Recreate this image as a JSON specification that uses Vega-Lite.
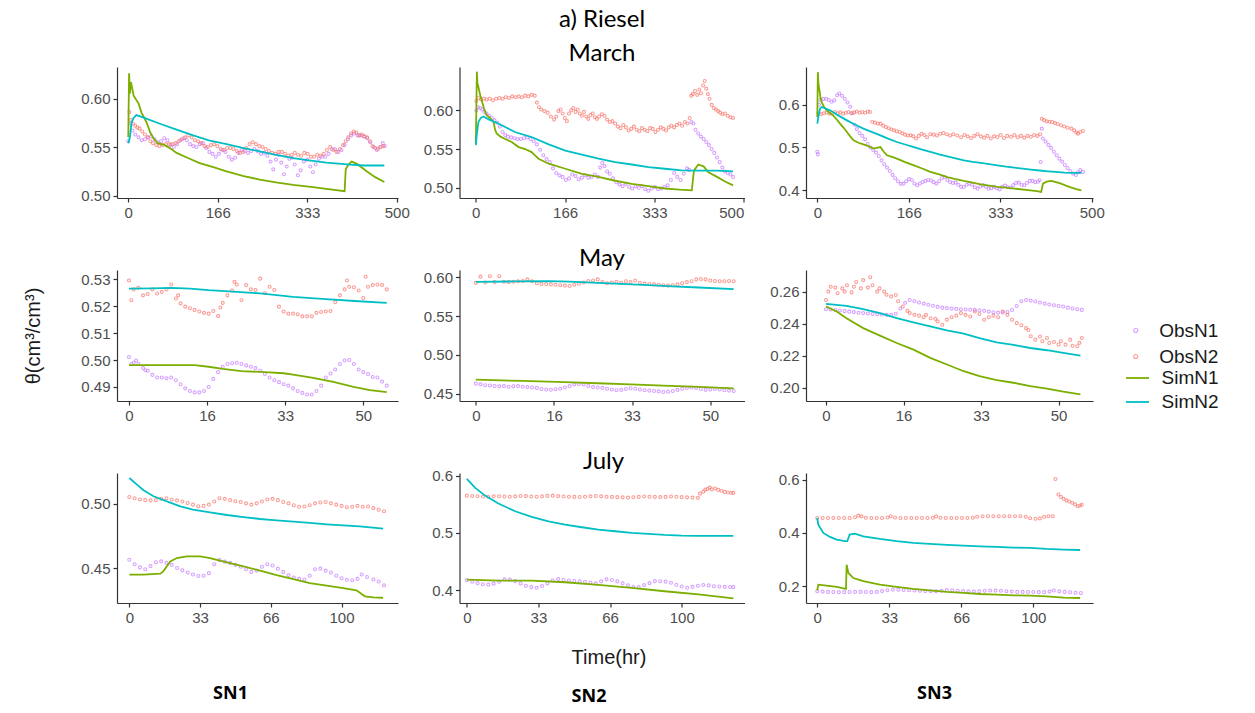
{
"$schema":"https://vega.github.io/schema/vega-lite/v6.json",
"background":"white",
"padding":{"left":23,"top":8,"right":5,"bottom":5},
"datasets":{
"m1a":[{"t":0,"v":0.556},{"t":4,"v":0.574},{"t":8,"v":0.567},{"t":13,"v":0.563},{"t":19,"v":0.56},{"t":25,"v":0.557},{"t":31,"v":0.558},{"t":37,"v":0.56},{"t":43,"v":0.561},{"t":49,"v":0.558},{"t":55,"v":0.555},{"t":61,"v":0.556},{"t":67,"v":0.559},{"t":73,"v":0.557},{"t":79,"v":0.552},{"t":85,"v":0.55},{"t":91,"v":0.553},{"t":97,"v":0.557},{"t":103,"v":0.559},{"t":109,"v":0.557},{"t":115,"v":0.553},{"t":121,"v":0.551},{"t":127,"v":0.55},{"t":133,"v":0.553},{"t":139,"v":0.554},{"t":145,"v":0.549},{"t":151,"v":0.545},{"t":157,"v":0.543},{"t":163,"v":0.54},{"t":169,"v":0.543},{"t":175,"v":0.547},{"t":181,"v":0.545},{"t":187,"v":0.54},{"t":193,"v":0.537},{"t":199,"v":0.539},{"t":205,"v":0.544},{"t":211,"v":0.547},{"t":217,"v":0.546},{"t":223,"v":0.544},{"t":229,"v":0.546},{"t":235,"v":0.548},{"t":241,"v":0.546},{"t":247,"v":0.543},{"t":253,"v":0.544},{"t":259,"v":0.541},{"t":265,"v":0.535},{"t":270,"v":0.527},{"t":275,"v":0.537},{"t":280,"v":0.542},{"t":285,"v":0.534},{"t":290,"v":0.522},{"t":295,"v":0.53},{"t":300,"v":0.538},{"t":305,"v":0.539},{"t":310,"v":0.532},{"t":316,"v":0.521},{"t":321,"v":0.526},{"t":327,"v":0.535},{"t":333,"v":0.537},{"t":339,"v":0.53},{"t":344,"v":0.524},{"t":349,"v":0.532},{"t":355,"v":0.538},{"t":361,"v":0.54},{"t":367,"v":0.54},{"t":373,"v":0.543},{"t":379,"v":0.548},{"t":385,"v":0.548},{"t":391,"v":0.545},{"t":397,"v":0.547},{"t":403,"v":0.552},{"t":409,"v":0.558},{"t":415,"v":0.562},{"t":421,"v":0.564},{"t":427,"v":0.562},{"t":433,"v":0.562},{"t":439,"v":0.561},{"t":445,"v":0.559},{"t":451,"v":0.555},{"t":457,"v":0.55},{"t":463,"v":0.547},{"t":469,"v":0.55},{"t":474,"v":0.554},{"t":478,"v":0.551}],
"m1b":[{"t":2,"v":0.586},{"t":5,"v":0.578},{"t":9,"v":0.574},{"t":13,"v":0.572},{"t":17,"v":0.57},{"t":21,"v":0.569},{"t":26,"v":0.566},{"t":31,"v":0.563},{"t":36,"v":0.56},{"t":41,"v":0.556},{"t":46,"v":0.554},{"t":52,"v":0.552},{"t":58,"v":0.551},{"t":64,"v":0.552},{"t":70,"v":0.553},{"t":76,"v":0.553},{"t":82,"v":0.553},{"t":88,"v":0.554},{"t":94,"v":0.556},{"t":100,"v":0.558},{"t":106,"v":0.56},{"t":112,"v":0.562},{"t":118,"v":0.56},{"t":124,"v":0.557},{"t":130,"v":0.556},{"t":136,"v":0.554},{"t":142,"v":0.551},{"t":148,"v":0.55},{"t":154,"v":0.552},{"t":160,"v":0.553},{"t":166,"v":0.551},{"t":172,"v":0.548},{"t":178,"v":0.547},{"t":184,"v":0.549},{"t":190,"v":0.549},{"t":196,"v":0.548},{"t":202,"v":0.546},{"t":208,"v":0.544},{"t":214,"v":0.545},{"t":220,"v":0.549},{"t":226,"v":0.553},{"t":232,"v":0.555},{"t":238,"v":0.553},{"t":244,"v":0.551},{"t":250,"v":0.55},{"t":256,"v":0.548},{"t":262,"v":0.546},{"t":268,"v":0.544},{"t":274,"v":0.543},{"t":280,"v":0.545},{"t":286,"v":0.545},{"t":292,"v":0.543},{"t":298,"v":0.541},{"t":304,"v":0.542},{"t":310,"v":0.544},{"t":316,"v":0.542},{"t":322,"v":0.541},{"t":328,"v":0.544},{"t":334,"v":0.543},{"t":340,"v":0.54},{"t":346,"v":0.54},{"t":352,"v":0.542},{"t":358,"v":0.541},{"t":364,"v":0.543},{"t":370,"v":0.547},{"t":376,"v":0.55},{"t":382,"v":0.547},{"t":388,"v":0.545},{"t":394,"v":0.548},{"t":400,"v":0.552},{"t":405,"v":0.556},{"t":410,"v":0.56},{"t":415,"v":0.564},{"t":420,"v":0.566},{"t":425,"v":0.565},{"t":430,"v":0.562},{"t":435,"v":0.563},{"t":440,"v":0.561},{"t":445,"v":0.56},{"t":450,"v":0.556},{"t":455,"v":0.551},{"t":460,"v":0.549},{"t":465,"v":0.548},{"t":470,"v":0.55},{"t":475,"v":0.551}],
"m1c":[{"t":0,"v":0.56},{"t":1.5,"v":0.626},{"t":3,"v":0.605},{"t":5,"v":0.617},{"t":10,"v":0.603},{"t":19,"v":0.595},{"t":25,"v":0.585},{"t":30,"v":0.58},{"t":35,"v":0.574},{"t":41,"v":0.565},{"t":47,"v":0.559},{"t":55,"v":0.554},{"t":68,"v":0.552},{"t":80,"v":0.548},{"t":90,"v":0.544},{"t":110,"v":0.539},{"t":133,"v":0.5335},{"t":160,"v":0.529},{"t":183,"v":0.525},{"t":215,"v":0.52},{"t":245,"v":0.5165},{"t":275,"v":0.5135},{"t":307,"v":0.511},{"t":340,"v":0.509},{"t":369,"v":0.507},{"t":403,"v":0.5045},{"t":405,"v":0.527},{"t":410,"v":0.532},{"t":416,"v":0.535},{"t":425,"v":0.533},{"t":435,"v":0.529},{"t":444,"v":0.525},{"t":460,"v":0.519},{"t":477,"v":0.514}],
"m1d":[{"t":0,"v":0.554},{"t":3,"v":0.56},{"t":6,"v":0.575},{"t":10,"v":0.58},{"t":15,"v":0.583},{"t":30,"v":0.58},{"t":59,"v":0.574},{"t":90,"v":0.568},{"t":121,"v":0.562},{"t":150,"v":0.557},{"t":183,"v":0.553},{"t":215,"v":0.549},{"t":245,"v":0.5455},{"t":275,"v":0.542},{"t":307,"v":0.5385},{"t":340,"v":0.536},{"t":369,"v":0.534},{"t":413,"v":0.532},{"t":440,"v":0.531},{"t":477,"v":0.531}],
"m2a":[{"t":1,"v":0.6},{"t":4,"v":0.604},{"t":8,"v":0.603},{"t":12,"v":0.601},{"t":16,"v":0.598},{"t":20,"v":0.596},{"t":25,"v":0.593},{"t":30,"v":0.59},{"t":35,"v":0.587},{"t":40,"v":0.584},{"t":45,"v":0.579},{"t":50,"v":0.572},{"t":55,"v":0.568},{"t":60,"v":0.566},{"t":66,"v":0.565},{"t":72,"v":0.564},{"t":78,"v":0.563},{"t":84,"v":0.563},{"t":90,"v":0.564},{"t":96,"v":0.565},{"t":102,"v":0.563},{"t":108,"v":0.56},{"t":114,"v":0.556},{"t":120,"v":0.549},{"t":126,"v":0.542},{"t":132,"v":0.537},{"t":138,"v":0.533},{"t":144,"v":0.525},{"t":150,"v":0.519},{"t":156,"v":0.516},{"t":162,"v":0.514},{"t":168,"v":0.51},{"t":174,"v":0.512},{"t":180,"v":0.517},{"t":186,"v":0.515},{"t":192,"v":0.511},{"t":198,"v":0.513},{"t":204,"v":0.516},{"t":210,"v":0.513},{"t":216,"v":0.514},{"t":222,"v":0.517},{"t":228,"v":0.514},{"t":232,"v":0.526},{"t":236,"v":0.532},{"t":240,"v":0.528},{"t":245,"v":0.521},{"t":250,"v":0.518},{"t":256,"v":0.512},{"t":262,"v":0.507},{"t":268,"v":0.504},{"t":274,"v":0.502},{"t":280,"v":0.505},{"t":286,"v":0.501},{"t":292,"v":0.499},{"t":298,"v":0.502},{"t":304,"v":0.5},{"t":310,"v":0.502},{"t":316,"v":0.498},{"t":322,"v":0.496},{"t":328,"v":0.499},{"t":334,"v":0.501},{"t":340,"v":0.498},{"t":346,"v":0.499},{"t":352,"v":0.501},{"t":358,"v":0.503},{"t":364,"v":0.51},{"t":370,"v":0.519},{"t":376,"v":0.514},{"t":382,"v":0.51},{"t":388,"v":0.518},{"t":394,"v":0.525},{"t":398,"v":0.523},{"t":402,"v":0.585},{"t":406,"v":0.583},{"t":410,"v":0.575},{"t":415,"v":0.57},{"t":420,"v":0.566},{"t":425,"v":0.563},{"t":430,"v":0.559},{"t":435,"v":0.555},{"t":440,"v":0.55},{"t":445,"v":0.545},{"t":450,"v":0.539},{"t":455,"v":0.533},{"t":460,"v":0.526},{"t":465,"v":0.521},{"t":470,"v":0.519},{"t":475,"v":0.517},{"t":480,"v":0.514}],
"m2b":[{"t":1,"v":0.612},{"t":5,"v":0.616},{"t":10,"v":0.614},{"t":15,"v":0.615},{"t":20,"v":0.614},{"t":26,"v":0.615},{"t":32,"v":0.613},{"t":38,"v":0.615},{"t":44,"v":0.616},{"t":50,"v":0.615},{"t":56,"v":0.617},{"t":62,"v":0.616},{"t":68,"v":0.618},{"t":74,"v":0.617},{"t":80,"v":0.618},{"t":86,"v":0.617},{"t":92,"v":0.619},{"t":98,"v":0.618},{"t":104,"v":0.62},{"t":110,"v":0.619},{"t":114,"v":0.61},{"t":118,"v":0.604},{"t":122,"v":0.601},{"t":128,"v":0.599},{"t":134,"v":0.597},{"t":140,"v":0.592},{"t":146,"v":0.588},{"t":150,"v":0.592},{"t":154,"v":0.599},{"t":158,"v":0.601},{"t":162,"v":0.596},{"t":166,"v":0.59},{"t":170,"v":0.586},{"t":174,"v":0.596},{"t":178,"v":0.6},{"t":182,"v":0.603},{"t":186,"v":0.598},{"t":190,"v":0.601},{"t":194,"v":0.596},{"t":198,"v":0.593},{"t":202,"v":0.598},{"t":206,"v":0.592},{"t":210,"v":0.589},{"t":214,"v":0.594},{"t":218,"v":0.596},{"t":222,"v":0.591},{"t":226,"v":0.589},{"t":230,"v":0.592},{"t":235,"v":0.595},{"t":240,"v":0.593},{"t":245,"v":0.588},{"t":250,"v":0.585},{"t":255,"v":0.586},{"t":260,"v":0.583},{"t":265,"v":0.579},{"t":270,"v":0.577},{"t":275,"v":0.581},{"t":280,"v":0.578},{"t":285,"v":0.574},{"t":290,"v":0.576},{"t":295,"v":0.579},{"t":300,"v":0.575},{"t":305,"v":0.573},{"t":310,"v":0.577},{"t":315,"v":0.575},{"t":320,"v":0.573},{"t":325,"v":0.577},{"t":330,"v":0.576},{"t":335,"v":0.572},{"t":340,"v":0.575},{"t":345,"v":0.578},{"t":350,"v":0.576},{"t":355,"v":0.574},{"t":360,"v":0.578},{"t":365,"v":0.58},{"t":370,"v":0.578},{"t":375,"v":0.581},{"t":380,"v":0.583},{"t":385,"v":0.58},{"t":390,"v":0.585},{"t":395,"v":0.583},{"t":399,"v":0.59},{"t":402,"v":0.619},{"t":405,"v":0.621},{"t":409,"v":0.625},{"t":413,"v":0.62},{"t":417,"v":0.627},{"t":420,"v":0.622},{"t":424,"v":0.632},{"t":427,"v":0.638},{"t":430,"v":0.628},{"t":433,"v":0.621},{"t":436,"v":0.615},{"t":440,"v":0.607},{"t":444,"v":0.603},{"t":448,"v":0.601},{"t":452,"v":0.599},{"t":456,"v":0.597},{"t":460,"v":0.595},{"t":465,"v":0.596},{"t":470,"v":0.593},{"t":475,"v":0.591},{"t":480,"v":0.59}],
"m2c":[{"t":0,"v":0.557},{"t":1,"v":0.6},{"t":2,"v":0.65},{"t":3,"v":0.635},{"t":5,"v":0.63},{"t":8,"v":0.62},{"t":11,"v":0.613},{"t":15,"v":0.603},{"t":20,"v":0.594},{"t":27,"v":0.59},{"t":33,"v":0.585},{"t":36,"v":0.575},{"t":39,"v":0.57},{"t":46,"v":0.566},{"t":55,"v":0.563},{"t":67,"v":0.559},{"t":80,"v":0.5525},{"t":92,"v":0.55},{"t":104,"v":0.546},{"t":110,"v":0.542},{"t":117,"v":0.5375},{"t":136,"v":0.531},{"t":167,"v":0.5245},{"t":198,"v":0.518},{"t":229,"v":0.514},{"t":260,"v":0.509},{"t":291,"v":0.505},{"t":322,"v":0.502},{"t":353,"v":0.499},{"t":380,"v":0.4975},{"t":403,"v":0.4966},{"t":405,"v":0.51},{"t":407,"v":0.522},{"t":415,"v":0.53},{"t":425,"v":0.5276},{"t":434,"v":0.52},{"t":450,"v":0.514},{"t":465,"v":0.508},{"t":480,"v":0.503}],
"m2d":[{"t":0,"v":0.555},{"t":2,"v":0.57},{"t":5,"v":0.585},{"t":9,"v":0.59},{"t":14,"v":0.592},{"t":25,"v":0.588},{"t":42,"v":0.583},{"t":73,"v":0.572},{"t":104,"v":0.5655},{"t":136,"v":0.556},{"t":167,"v":0.548},{"t":198,"v":0.5427},{"t":229,"v":0.5375},{"t":260,"v":0.533},{"t":291,"v":0.53},{"t":322,"v":0.5267},{"t":353,"v":0.5245},{"t":384,"v":0.5224},{"t":415,"v":0.522},{"t":450,"v":0.522},{"t":480,"v":0.521}],
"m3a":[{"t":0,"v":0.49},{"t":1,"v":0.484},{"t":3,"v":0.6},{"t":6,"v":0.611},{"t":11,"v":0.613},{"t":16,"v":0.614},{"t":21,"v":0.611},{"t":26,"v":0.607},{"t":31,"v":0.61},{"t":36,"v":0.622},{"t":40,"v":0.626},{"t":45,"v":0.621},{"t":50,"v":0.614},{"t":55,"v":0.605},{"t":60,"v":0.595},{"t":64,"v":0.58},{"t":68,"v":0.553},{"t":72,"v":0.543},{"t":77,"v":0.534},{"t":82,"v":0.527},{"t":87,"v":0.519},{"t":92,"v":0.508},{"t":97,"v":0.5},{"t":102,"v":0.494},{"t":107,"v":0.488},{"t":112,"v":0.48},{"t":117,"v":0.47},{"t":122,"v":0.461},{"t":127,"v":0.453},{"t":132,"v":0.445},{"t":137,"v":0.436},{"t":142,"v":0.428},{"t":147,"v":0.421},{"t":152,"v":0.415},{"t":157,"v":0.4156},{"t":162,"v":0.421},{"t":167,"v":0.426},{"t":172,"v":0.424},{"t":177,"v":0.416},{"t":182,"v":0.4117},{"t":187,"v":0.416},{"t":192,"v":0.4195},{"t":197,"v":0.422},{"t":202,"v":0.424},{"t":207,"v":0.423},{"t":212,"v":0.419},{"t":217,"v":0.4156},{"t":222,"v":0.421},{"t":227,"v":0.428},{"t":232,"v":0.431},{"t":237,"v":0.424},{"t":242,"v":0.4195},{"t":247,"v":0.417},{"t":252,"v":0.418},{"t":257,"v":0.413},{"t":262,"v":0.408},{"t":267,"v":0.4078},{"t":272,"v":0.413},{"t":277,"v":0.4156},{"t":282,"v":0.413},{"t":287,"v":0.407},{"t":292,"v":0.404},{"t":297,"v":0.409},{"t":302,"v":0.412},{"t":307,"v":0.408},{"t":312,"v":0.404},{"t":317,"v":0.405},{"t":322,"v":0.408},{"t":327,"v":0.405},{"t":332,"v":0.402},{"t":337,"v":0.408},{"t":342,"v":0.411},{"t":347,"v":0.407},{"t":352,"v":0.4065},{"t":357,"v":0.412},{"t":362,"v":0.417},{"t":367,"v":0.418},{"t":372,"v":0.413},{"t":377,"v":0.4117},{"t":382,"v":0.417},{"t":387,"v":0.422},{"t":392,"v":0.422},{"t":397,"v":0.419},{"t":402,"v":0.42},{"t":405,"v":0.4234},{"t":407,"v":0.466},{"t":409,"v":0.544},{"t":411,"v":0.521},{"t":416,"v":0.514},{"t":421,"v":0.506},{"t":426,"v":0.499},{"t":431,"v":0.49},{"t":436,"v":0.482},{"t":441,"v":0.474},{"t":446,"v":0.467},{"t":451,"v":0.459},{"t":456,"v":0.452},{"t":461,"v":0.445},{"t":466,"v":0.439},{"t":471,"v":0.436},{"t":475,"v":0.442},{"t":479,"v":0.447},{"t":484,"v":0.443}],
"m3b":[{"t":2,"v":0.58},{"t":7,"v":0.578},{"t":12,"v":0.58},{"t":17,"v":0.582},{"t":22,"v":0.579},{"t":27,"v":0.581},{"t":32,"v":0.583},{"t":37,"v":0.58},{"t":42,"v":0.582},{"t":47,"v":0.579},{"t":52,"v":0.581},{"t":57,"v":0.583},{"t":62,"v":0.58},{"t":67,"v":0.582},{"t":72,"v":0.584},{"t":77,"v":0.581},{"t":82,"v":0.583},{"t":87,"v":0.581},{"t":92,"v":0.584},{"t":96,"v":0.583},{"t":100,"v":0.56},{"t":105,"v":0.558},{"t":110,"v":0.556},{"t":115,"v":0.5557},{"t":120,"v":0.551},{"t":125,"v":0.548},{"t":130,"v":0.545},{"t":135,"v":0.542},{"t":140,"v":0.54},{"t":145,"v":0.538},{"t":150,"v":0.536},{"t":155,"v":0.533},{"t":160,"v":0.53},{"t":165,"v":0.528},{"t":170,"v":0.5284},{"t":175,"v":0.526},{"t":180,"v":0.521},{"t":185,"v":0.527},{"t":190,"v":0.532},{"t":195,"v":0.529},{"t":200,"v":0.524},{"t":206,"v":0.531},{"t":212,"v":0.53},{"t":218,"v":0.528},{"t":224,"v":0.532},{"t":230,"v":0.534},{"t":236,"v":0.531},{"t":242,"v":0.528},{"t":248,"v":0.531},{"t":255,"v":0.528},{"t":262,"v":0.524},{"t":268,"v":0.529},{"t":274,"v":0.526},{"t":280,"v":0.522},{"t":286,"v":0.527},{"t":292,"v":0.531},{"t":298,"v":0.526},{"t":304,"v":0.523},{"t":310,"v":0.527},{"t":316,"v":0.521},{"t":322,"v":0.526},{"t":328,"v":0.5245},{"t":334,"v":0.529},{"t":340,"v":0.522},{"t":346,"v":0.527},{"t":353,"v":0.525},{"t":359,"v":0.529},{"t":365,"v":0.524},{"t":371,"v":0.527},{"t":377,"v":0.523},{"t":383,"v":0.527},{"t":389,"v":0.525},{"t":395,"v":0.529},{"t":401,"v":0.527},{"t":406,"v":0.531},{"t":409,"v":0.567},{"t":413,"v":0.564},{"t":418,"v":0.561},{"t":423,"v":0.56},{"t":428,"v":0.5595},{"t":433,"v":0.557},{"t":438,"v":0.555},{"t":444,"v":0.5518},{"t":450,"v":0.549},{"t":456,"v":0.546},{"t":463,"v":0.544},{"t":468,"v":0.54},{"t":472,"v":0.535},{"t":475,"v":0.5323},{"t":479,"v":0.536},{"t":484,"v":0.5385}],
"m3c":[{"t":0,"v":0.571},{"t":1,"v":0.676},{"t":2,"v":0.65},{"t":4,"v":0.633},{"t":6,"v":0.615},{"t":8,"v":0.606},{"t":12,"v":0.595},{"t":17,"v":0.587},{"t":23,"v":0.58},{"t":29,"v":0.575},{"t":35,"v":0.566},{"t":41.5,"v":0.5557},{"t":48,"v":0.546},{"t":54,"v":0.536},{"t":60,"v":0.526},{"t":66,"v":0.5167},{"t":75,"v":0.511},{"t":84,"v":0.5074},{"t":93,"v":0.503},{"t":102.6,"v":0.4973},{"t":108,"v":0.499},{"t":115,"v":0.501},{"t":121,"v":0.49},{"t":127,"v":0.4817},{"t":136,"v":0.478},{"t":145,"v":0.474},{"t":160,"v":0.466},{"t":176,"v":0.4584},{"t":191,"v":0.451},{"t":206,"v":0.443},{"t":222,"v":0.437},{"t":237,"v":0.431},{"t":252,"v":0.426},{"t":267,"v":0.4218},{"t":283,"v":0.418},{"t":298,"v":0.414},{"t":313,"v":0.411},{"t":328,"v":0.408},{"t":344,"v":0.406},{"t":359,"v":0.404},{"t":380,"v":0.401},{"t":400,"v":0.398},{"t":408,"v":0.396},{"t":411,"v":0.4156},{"t":418,"v":0.42},{"t":426,"v":0.4218},{"t":435,"v":0.419},{"t":444,"v":0.4156},{"t":453,"v":0.411},{"t":463,"v":0.4063},{"t":472,"v":0.403},{"t":481,"v":0.4}],
"m3d":[{"t":0,"v":0.5557},{"t":3,"v":0.58},{"t":5,"v":0.5907},{"t":8,"v":0.5946},{"t":15,"v":0.591},{"t":23,"v":0.5868},{"t":38,"v":0.575},{"t":54,"v":0.5634},{"t":69,"v":0.553},{"t":84,"v":0.544},{"t":100,"v":0.536},{"t":115,"v":0.5284},{"t":130,"v":0.52},{"t":145,"v":0.5128},{"t":160,"v":0.507},{"t":176,"v":0.501},{"t":191,"v":0.495},{"t":206,"v":0.4895},{"t":222,"v":0.484},{"t":237,"v":0.4794},{"t":252,"v":0.4745},{"t":267,"v":0.47},{"t":283,"v":0.4665},{"t":298,"v":0.4638},{"t":313,"v":0.461},{"t":328,"v":0.4584},{"t":344,"v":0.4555},{"t":359,"v":0.453},{"t":374,"v":0.4505},{"t":389,"v":0.4483},{"t":405,"v":0.4462},{"t":420,"v":0.4444},{"t":435,"v":0.4428},{"t":450,"v":0.4413},{"t":466,"v":0.4408},{"t":481,"v":0.4405}],
"y1a":[{"t":0,"v":0.5011},{"t":0.5,"v":0.4985},{"t":1,"v":0.499},{"t":1.5,"v":0.4998},{"t":2,"v":0.4985},{"t":3,"v":0.497},{"t":3.5,"v":0.4962},{"t":4,"v":0.496},{"t":5,"v":0.4945},{"t":6,"v":0.4935},{"t":7,"v":0.4935},{"t":8,"v":0.4932},{"t":9,"v":0.4935},{"t":10,"v":0.4925},{"t":11,"v":0.491},{"t":12,"v":0.4895},{"t":13,"v":0.4885},{"t":14,"v":0.488},{"t":15,"v":0.488},{"t":16,"v":0.4885},{"t":17,"v":0.49},{"t":18,"v":0.493},{"t":19,"v":0.4955},{"t":20,"v":0.4975},{"t":21,"v":0.4985},{"t":22,"v":0.4988},{"t":23,"v":0.499},{"t":24,"v":0.4985},{"t":25,"v":0.498},{"t":26,"v":0.4975},{"t":27,"v":0.497},{"t":28,"v":0.496},{"t":29,"v":0.4948},{"t":30,"v":0.4935},{"t":31,"v":0.4925},{"t":32,"v":0.4918},{"t":33,"v":0.491},{"t":34,"v":0.4905},{"t":35,"v":0.4895},{"t":36,"v":0.4885},{"t":37,"v":0.4878},{"t":38,"v":0.4872},{"t":39,"v":0.4872},{"t":40,"v":0.4885},{"t":41,"v":0.4905},{"t":42,"v":0.4935},{"t":43,"v":0.495},{"t":44,"v":0.4965},{"t":45,"v":0.4985},{"t":46,"v":0.4998},{"t":47,"v":0.5},{"t":48,"v":0.4985},{"t":49,"v":0.4965},{"t":50,"v":0.4955},{"t":51,"v":0.4948},{"t":52,"v":0.4937},{"t":53,"v":0.4935},{"t":54,"v":0.492},{"t":55,"v":0.4905}],
"y1b":[{"t":0,"v":0.5295},{"t":0.5,"v":0.5222},{"t":1,"v":0.5262},{"t":2,"v":0.5268},{"t":3,"v":0.524},{"t":4,"v":0.5245},{"t":5,"v":0.5262},{"t":6,"v":0.5247},{"t":7,"v":0.5253},{"t":8,"v":0.5262},{"t":9,"v":0.528},{"t":10,"v":0.5228},{"t":10.5,"v":0.524},{"t":11,"v":0.521},{"t":12,"v":0.5198},{"t":13,"v":0.5192},{"t":14,"v":0.5186},{"t":15,"v":0.518},{"t":16,"v":0.5175},{"t":17,"v":0.5172},{"t":18,"v":0.5182},{"t":19,"v":0.5163},{"t":19.5,"v":0.5195},{"t":20,"v":0.5212},{"t":21,"v":0.524},{"t":22,"v":0.5258},{"t":22.5,"v":0.529},{"t":23,"v":0.528},{"t":24,"v":0.5222},{"t":25,"v":0.5278},{"t":26,"v":0.5262},{"t":27,"v":0.526},{"t":28,"v":0.5302},{"t":29,"v":0.5248},{"t":30,"v":0.5272},{"t":31,"v":0.526},{"t":32,"v":0.5198},{"t":33,"v":0.518},{"t":34,"v":0.5172},{"t":35,"v":0.5172},{"t":36,"v":0.517},{"t":37,"v":0.5162},{"t":38,"v":0.5162},{"t":39,"v":0.5162},{"t":40,"v":0.5175},{"t":41,"v":0.5178},{"t":42,"v":0.518},{"t":43,"v":0.5182},{"t":44,"v":0.5215},{"t":45,"v":0.524},{"t":46,"v":0.5262},{"t":46.5,"v":0.5295},{"t":47,"v":0.5272},{"t":48,"v":0.527},{"t":49,"v":0.5258},{"t":50,"v":0.523},{"t":50.5,"v":0.5309},{"t":51,"v":0.5272},{"t":52,"v":0.5278},{"t":53,"v":0.528},{"t":54,"v":0.5278},{"t":55,"v":0.5262}],
"y1c":[{"t":0,"v":0.4981},{"t":5,"v":0.4981},{"t":10,"v":0.4981},{"t":14,"v":0.4981},{"t":17,"v":0.4975},{"t":20,"v":0.4967},{"t":24,"v":0.4959},{"t":29,"v":0.4955},{"t":33,"v":0.4951},{"t":35,"v":0.4946},{"t":39,"v":0.4935},{"t":43.6,"v":0.4919},{"t":47.9,"v":0.49},{"t":51.4,"v":0.4888},{"t":55,"v":0.4881}],
"y1d":[{"t":0,"v":0.5265},{"t":5,"v":0.5266},{"t":9,"v":0.5268},{"t":13,"v":0.5265},{"t":17,"v":0.5259},{"t":23,"v":0.5253},{"t":28,"v":0.5247},{"t":35,"v":0.5234},{"t":42,"v":0.5226},{"t":49,"v":0.5218},{"t":55,"v":0.5212}],
"y2a":[{"t":0,"v":0.463},{"t":1,"v":0.462},{"t":2,"v":0.461},{"t":3,"v":0.4605},{"t":4,"v":0.46},{"t":5,"v":0.4595},{"t":6,"v":0.4598},{"t":7,"v":0.459},{"t":8,"v":0.4595},{"t":9,"v":0.4598},{"t":10,"v":0.459},{"t":11,"v":0.4585},{"t":12,"v":0.458},{"t":13,"v":0.4575},{"t":14,"v":0.456},{"t":15,"v":0.4555},{"t":16,"v":0.4552},{"t":17,"v":0.4558},{"t":18,"v":0.4565},{"t":19,"v":0.458},{"t":20,"v":0.46},{"t":21,"v":0.462},{"t":22,"v":0.4625},{"t":23,"v":0.462},{"t":24,"v":0.46},{"t":25,"v":0.4585},{"t":26,"v":0.458},{"t":27,"v":0.4575},{"t":28,"v":0.4565},{"t":29,"v":0.4555},{"t":30,"v":0.4545},{"t":31,"v":0.455},{"t":32,"v":0.456},{"t":33,"v":0.457},{"t":34,"v":0.4565},{"t":35,"v":0.4555},{"t":36,"v":0.4545},{"t":37,"v":0.454},{"t":38,"v":0.4535},{"t":39,"v":0.453},{"t":40,"v":0.4522},{"t":41,"v":0.4525},{"t":42,"v":0.4535},{"t":43,"v":0.455},{"t":44,"v":0.4565},{"t":45,"v":0.4575},{"t":46,"v":0.458},{"t":47,"v":0.4575},{"t":48,"v":0.456},{"t":49,"v":0.455},{"t":50,"v":0.4555},{"t":51,"v":0.456},{"t":52,"v":0.4555},{"t":53,"v":0.4545},{"t":54,"v":0.454},{"t":55,"v":0.4535}],
"y2b":[{"t":0,"v":0.593},{"t":1,"v":0.601},{"t":2,"v":0.5935},{"t":3,"v":0.6015},{"t":4,"v":0.594},{"t":5,"v":0.6015},{"t":6,"v":0.5945},{"t":7,"v":0.594},{"t":8,"v":0.5945},{"t":9,"v":0.595},{"t":10,"v":0.5955},{"t":11,"v":0.5975},{"t":12,"v":0.595},{"t":13,"v":0.5925},{"t":14,"v":0.5915},{"t":15,"v":0.5915},{"t":16,"v":0.591},{"t":17,"v":0.5905},{"t":18,"v":0.59},{"t":19,"v":0.5895},{"t":20,"v":0.589},{"t":21,"v":0.5905},{"t":22,"v":0.592},{"t":23,"v":0.5935},{"t":24,"v":0.5955},{"t":25,"v":0.596},{"t":26,"v":0.5975},{"t":27,"v":0.594},{"t":28,"v":0.5925},{"t":29,"v":0.5935},{"t":30,"v":0.5945},{"t":31,"v":0.593},{"t":32,"v":0.595},{"t":33,"v":0.594},{"t":34,"v":0.596},{"t":35,"v":0.593},{"t":36,"v":0.592},{"t":37,"v":0.5915},{"t":38,"v":0.591},{"t":39,"v":0.5905},{"t":40,"v":0.59},{"t":41,"v":0.5895},{"t":42,"v":0.59},{"t":43,"v":0.591},{"t":44,"v":0.5925},{"t":45,"v":0.594},{"t":46,"v":0.595},{"t":47,"v":0.5975},{"t":48,"v":0.598},{"t":49,"v":0.5975},{"t":50,"v":0.596},{"t":51,"v":0.5955},{"t":52,"v":0.595},{"t":53,"v":0.595},{"t":54,"v":0.5955},{"t":55,"v":0.595}],
"y2c":[{"t":0,"v":0.4681},{"t":10,"v":0.4665},{"t":19,"v":0.465},{"t":26,"v":0.4635},{"t":33,"v":0.462},{"t":40,"v":0.4605},{"t":47.5,"v":0.4587},{"t":55,"v":0.457}],
"y2d":[{"t":0,"v":0.5944},{"t":8,"v":0.5948},{"t":15.5,"v":0.5953},{"t":20,"v":0.5945},{"t":26,"v":0.5931},{"t":31,"v":0.5918},{"t":36.8,"v":0.59},{"t":42,"v":0.5885},{"t":47.5,"v":0.587},{"t":55,"v":0.585}],
"y3a":[{"t":0,"v":0.249},{"t":1,"v":0.2488},{"t":2,"v":0.2485},{"t":3,"v":0.2482},{"t":4,"v":0.2478},{"t":5,"v":0.2475},{"t":6,"v":0.2472},{"t":7,"v":0.2468},{"t":8,"v":0.2466},{"t":9,"v":0.2463},{"t":10,"v":0.246},{"t":11,"v":0.2458},{"t":12,"v":0.2457},{"t":13,"v":0.2455},{"t":14,"v":0.2455},{"t":15,"v":0.2462},{"t":16,"v":0.2495},{"t":17,"v":0.253},{"t":18,"v":0.2548},{"t":19,"v":0.254},{"t":20,"v":0.2532},{"t":21,"v":0.2525},{"t":22,"v":0.2518},{"t":23,"v":0.2512},{"t":24,"v":0.2505},{"t":25,"v":0.25},{"t":26,"v":0.2497},{"t":27,"v":0.2494},{"t":28,"v":0.2492},{"t":29,"v":0.249},{"t":30,"v":0.2488},{"t":31,"v":0.2487},{"t":32,"v":0.2486},{"t":33,"v":0.2484},{"t":34,"v":0.248},{"t":35,"v":0.2475},{"t":36,"v":0.2471},{"t":37,"v":0.2469},{"t":38,"v":0.247},{"t":39,"v":0.2473},{"t":40,"v":0.2485},{"t":41,"v":0.251},{"t":42,"v":0.254},{"t":43,"v":0.2548},{"t":44,"v":0.2544},{"t":45,"v":0.2538},{"t":46,"v":0.2532},{"t":47,"v":0.2525},{"t":48,"v":0.252},{"t":49,"v":0.2515},{"t":50,"v":0.251},{"t":51,"v":0.2507},{"t":52,"v":0.25},{"t":53,"v":0.2495},{"t":54,"v":0.249},{"t":55,"v":0.2486}],
"y3b":[{"t":0,"v":0.2548},{"t":0.5,"v":0.26},{"t":1,"v":0.263},{"t":2,"v":0.2625},{"t":2.5,"v":0.259},{"t":3.5,"v":0.262},{"t":4,"v":0.26},{"t":4.5,"v":0.264},{"t":5.5,"v":0.2595},{"t":6,"v":0.263},{"t":6.5,"v":0.266},{"t":7.5,"v":0.262},{"t":8,"v":0.2672},{"t":9,"v":0.2625},{"t":9.5,"v":0.269},{"t":10,"v":0.264},{"t":11,"v":0.26},{"t":11.5,"v":0.262},{"t":12.5,"v":0.26},{"t":13,"v":0.258},{"t":14,"v":0.257},{"t":15,"v":0.2579},{"t":15.5,"v":0.254},{"t":16.5,"v":0.2507},{"t":17.5,"v":0.248},{"t":18,"v":0.2466},{"t":19,"v":0.2455},{"t":20,"v":0.245},{"t":21,"v":0.244},{"t":21.5,"v":0.2455},{"t":22.5,"v":0.2434},{"t":23.5,"v":0.243},{"t":24,"v":0.2414},{"t":25,"v":0.2393},{"t":26,"v":0.2425},{"t":27,"v":0.244},{"t":28,"v":0.245},{"t":29,"v":0.2466},{"t":30,"v":0.2455},{"t":31,"v":0.2445},{"t":32,"v":0.2476},{"t":33,"v":0.246},{"t":34,"v":0.2424},{"t":35,"v":0.244},{"t":36,"v":0.245},{"t":37,"v":0.244},{"t":38,"v":0.2476},{"t":39,"v":0.2455},{"t":40,"v":0.2424},{"t":41,"v":0.2403},{"t":42,"v":0.239},{"t":43,"v":0.2372},{"t":43.5,"v":0.236},{"t":44,"v":0.2321},{"t":45,"v":0.23},{"t":46,"v":0.232},{"t":46.5,"v":0.229},{"t":47.5,"v":0.231},{"t":48,"v":0.2279},{"t":49,"v":0.2285},{"t":50,"v":0.227},{"t":50.5,"v":0.229},{"t":51.5,"v":0.2269},{"t":52.5,"v":0.23},{"t":53,"v":0.2262},{"t":54,"v":0.2259},{"t":54.5,"v":0.228},{"t":55,"v":0.231}],
"y3c":[{"t":0,"v":0.2507},{"t":2.3,"v":0.2476},{"t":4.4,"v":0.2434},{"t":8,"v":0.2372},{"t":11.6,"v":0.2325},{"t":15.2,"v":0.2279},{"t":18.8,"v":0.2238},{"t":22.4,"v":0.2186},{"t":26,"v":0.2145},{"t":29.6,"v":0.2103},{"t":33,"v":0.2072},{"t":36.7,"v":0.2048},{"t":40.3,"v":0.2031},{"t":43.9,"v":0.201},{"t":47.5,"v":0.1994},{"t":51,"v":0.1975},{"t":54.7,"v":0.1959}],
"y3d":[{"t":0,"v":0.2523},{"t":4.4,"v":0.2511},{"t":8,"v":0.249},{"t":11.6,"v":0.2466},{"t":15.2,"v":0.2434},{"t":18.8,"v":0.2408},{"t":22.4,"v":0.2383},{"t":26,"v":0.2358},{"t":29.6,"v":0.2337},{"t":33,"v":0.231},{"t":36.7,"v":0.2283},{"t":40.3,"v":0.2267},{"t":43.9,"v":0.2248},{"t":47.5,"v":0.2234},{"t":51,"v":0.2217},{"t":54.7,"v":0.22}],
"j1a":[{"t":0,"v":0.4565},{"t":2.5,"v":0.453},{"t":5,"v":0.4505},{"t":7.5,"v":0.449},{"t":10,"v":0.4515},{"t":12.5,"v":0.4545},{"t":15,"v":0.4552},{"t":17.5,"v":0.454},{"t":20,"v":0.4525},{"t":22.5,"v":0.45},{"t":25,"v":0.4482},{"t":27.5,"v":0.4465},{"t":30,"v":0.445},{"t":32.5,"v":0.4438},{"t":35,"v":0.444},{"t":37.5,"v":0.446},{"t":40,"v":0.453},{"t":42.5,"v":0.4562},{"t":45,"v":0.455},{"t":47.5,"v":0.454},{"t":50,"v":0.4525},{"t":52.5,"v":0.451},{"t":55,"v":0.449},{"t":57.5,"v":0.447},{"t":60,"v":0.448},{"t":62.5,"v":0.451},{"t":65,"v":0.453},{"t":67.5,"v":0.452},{"t":70,"v":0.4495},{"t":72.5,"v":0.447},{"t":75,"v":0.4445},{"t":77.5,"v":0.4425},{"t":80,"v":0.4415},{"t":82.5,"v":0.441},{"t":85,"v":0.444},{"t":87.5,"v":0.449},{"t":90,"v":0.4495},{"t":92.5,"v":0.448},{"t":95,"v":0.4465},{"t":97.5,"v":0.444},{"t":100,"v":0.442},{"t":102.5,"v":0.4408},{"t":105,"v":0.4405},{"t":107.5,"v":0.4415},{"t":109.5,"v":0.445},{"t":112,"v":0.443},{"t":115,"v":0.441},{"t":117.5,"v":0.4395},{"t":120,"v":0.4365}],
"j1b":[{"t":0,"v":0.5055},{"t":2.5,"v":0.5045},{"t":5,"v":0.5035},{"t":7.5,"v":0.503},{"t":10,"v":0.5028},{"t":12.5,"v":0.503},{"t":15,"v":0.504},{"t":17.5,"v":0.5045},{"t":20,"v":0.5035},{"t":22.5,"v":0.5028},{"t":25,"v":0.502},{"t":27.5,"v":0.5008},{"t":30,"v":0.4995},{"t":32.5,"v":0.4982},{"t":35,"v":0.4985},{"t":37.5,"v":0.4995},{"t":40,"v":0.502},{"t":42.5,"v":0.5045},{"t":45,"v":0.504},{"t":47.5,"v":0.503},{"t":50,"v":0.5022},{"t":52.5,"v":0.5015},{"t":55,"v":0.5005},{"t":57.5,"v":0.4995},{"t":60,"v":0.5005},{"t":62.5,"v":0.502},{"t":65,"v":0.5035},{"t":67.5,"v":0.504},{"t":70,"v":0.503},{"t":72.5,"v":0.5015},{"t":75,"v":0.5005},{"t":77.5,"v":0.499},{"t":80,"v":0.4978},{"t":82.5,"v":0.498},{"t":85,"v":0.499},{"t":87.5,"v":0.5005},{"t":90,"v":0.5012},{"t":92.5,"v":0.5015},{"t":95,"v":0.5005},{"t":97.5,"v":0.4995},{"t":100,"v":0.4985},{"t":102.5,"v":0.4975},{"t":105,"v":0.4978},{"t":107.5,"v":0.4985},{"t":110,"v":0.4978},{"t":112.5,"v":0.498},{"t":115,"v":0.4968},{"t":117.5,"v":0.4955},{"t":120,"v":0.4943}],
"j1c":[{"t":0,"v":0.4448},{"t":6.7,"v":0.4448},{"t":14.6,"v":0.4456},{"t":16,"v":0.4474},{"t":19.3,"v":0.4552},{"t":22.4,"v":0.4578},{"t":27,"v":0.4591},{"t":33.4,"v":0.4591},{"t":38,"v":0.4578},{"t":46,"v":0.4544},{"t":53.8,"v":0.4513},{"t":61.6,"v":0.4479},{"t":69.4,"v":0.4445},{"t":77.3,"v":0.4414},{"t":85,"v":0.4383},{"t":93,"v":0.4362},{"t":100.8,"v":0.4344},{"t":107,"v":0.4326},{"t":111,"v":0.4279},{"t":115,"v":0.4271},{"t":119.6,"v":0.4268}],
"j1d":[{"t":0,"v":0.5203},{"t":3.6,"v":0.5151},{"t":6.7,"v":0.5107},{"t":11.4,"v":0.506},{"t":17.7,"v":0.5021},{"t":24,"v":0.4982},{"t":30,"v":0.4956},{"t":38,"v":0.4935},{"t":46,"v":0.4914},{"t":53.8,"v":0.4898},{"t":61.6,"v":0.4883},{"t":69.4,"v":0.4872},{"t":77.3,"v":0.4862},{"t":85,"v":0.4852},{"t":93,"v":0.4841},{"t":100.8,"v":0.4833},{"t":108.6,"v":0.4826},{"t":119.6,"v":0.4807}],
"j2a":[{"t":0,"v":0.4174},{"t":2.5,"v":0.4148},{"t":5,"v":0.4125},{"t":7.5,"v":0.4105},{"t":10,"v":0.4098},{"t":12.5,"v":0.4115},{"t":15,"v":0.415},{"t":17.5,"v":0.419},{"t":20,"v":0.4185},{"t":22.5,"v":0.416},{"t":25,"v":0.412},{"t":27.5,"v":0.4078},{"t":30,"v":0.4055},{"t":32.5,"v":0.4045},{"t":35,"v":0.4075},{"t":37.5,"v":0.412},{"t":40,"v":0.417},{"t":42.5,"v":0.4195},{"t":45,"v":0.418},{"t":47.5,"v":0.417},{"t":50,"v":0.4162},{"t":52.5,"v":0.4155},{"t":55,"v":0.4148},{"t":57.5,"v":0.4135},{"t":60,"v":0.412},{"t":62.5,"v":0.4155},{"t":65,"v":0.419},{"t":67.5,"v":0.418},{"t":70,"v":0.4155},{"t":72.5,"v":0.412},{"t":75,"v":0.4085},{"t":77.5,"v":0.4055},{"t":80,"v":0.4055},{"t":82.5,"v":0.409},{"t":85,"v":0.4125},{"t":87.5,"v":0.416},{"t":90,"v":0.4158},{"t":92.5,"v":0.415},{"t":95,"v":0.413},{"t":97.5,"v":0.4095},{"t":100,"v":0.4065},{"t":102.5,"v":0.4045},{"t":105,"v":0.406},{"t":107.5,"v":0.408},{"t":110,"v":0.4092},{"t":112.5,"v":0.4085},{"t":115,"v":0.407},{"t":117.5,"v":0.4065},{"t":120,"v":0.406},{"t":122.5,"v":0.4058},{"t":124,"v":0.4055}],
"j2b":[{"t":0,"v":0.565},{"t":2.5,"v":0.5645},{"t":5,"v":0.564},{"t":7.5,"v":0.5635},{"t":10,"v":0.5632},{"t":12.5,"v":0.5638},{"t":15,"v":0.564},{"t":17.5,"v":0.5635},{"t":20,"v":0.5632},{"t":22.5,"v":0.5638},{"t":25,"v":0.5645},{"t":27.5,"v":0.5642},{"t":30,"v":0.5635},{"t":32.5,"v":0.5632},{"t":35,"v":0.5638},{"t":37.5,"v":0.5646},{"t":40,"v":0.565},{"t":42.5,"v":0.5642},{"t":45,"v":0.5636},{"t":47.5,"v":0.5632},{"t":50,"v":0.5628},{"t":52.5,"v":0.5626},{"t":55,"v":0.563},{"t":57.5,"v":0.5638},{"t":60,"v":0.5645},{"t":62.5,"v":0.5638},{"t":65,"v":0.5632},{"t":67.5,"v":0.5628},{"t":70,"v":0.5624},{"t":72.5,"v":0.562},{"t":75,"v":0.5616},{"t":77.5,"v":0.5622},{"t":80,"v":0.5628},{"t":82.5,"v":0.5634},{"t":85,"v":0.5632},{"t":87.5,"v":0.5628},{"t":90,"v":0.5625},{"t":92.5,"v":0.5628},{"t":95,"v":0.5634},{"t":97.5,"v":0.563},{"t":100,"v":0.5624},{"t":102.5,"v":0.562},{"t":105,"v":0.5616},{"t":107.5,"v":0.5612},{"t":108.5,"v":0.5686},{"t":110,"v":0.572},{"t":111,"v":0.5755},{"t":112,"v":0.5767},{"t":113,"v":0.579},{"t":114,"v":0.576},{"t":115.5,"v":0.5775},{"t":117,"v":0.575},{"t":118.5,"v":0.5735},{"t":120,"v":0.5715},{"t":121.5,"v":0.5705},{"t":123,"v":0.57},{"t":124,"v":0.5698}],
"j2c":[{"t":0,"v":0.4186},{"t":14.7,"v":0.4169},{"t":30.2,"v":0.4169},{"t":45.7,"v":0.414},{"t":61.2,"v":0.4093},{"t":76.7,"v":0.4041},{"t":92,"v":0.3983},{"t":107.8,"v":0.393},{"t":124,"v":0.386}],
"j2d":[{"t":0,"v":0.5942},{"t":3.9,"v":0.5785},{"t":8.5,"v":0.5651},{"t":14.7,"v":0.5512},{"t":22.5,"v":0.5378},{"t":30.2,"v":0.5279},{"t":38,"v":0.5203},{"t":45.7,"v":0.5145},{"t":53.5,"v":0.5099},{"t":61.2,"v":0.5058},{"t":69,"v":0.5029},{"t":76.7,"v":0.5},{"t":84.5,"v":0.4983},{"t":92,"v":0.4965},{"t":100,"v":0.4953},{"t":107.8,"v":0.495},{"t":124,"v":0.4948}],
"j3a":[{"t":0,"v":0.181},{"t":2.5,"v":0.18},{"t":5,"v":0.179},{"t":7.5,"v":0.1785},{"t":10,"v":0.178},{"t":12.5,"v":0.178},{"t":15,"v":0.1785},{"t":17.5,"v":0.179},{"t":20,"v":0.179},{"t":22.5,"v":0.1785},{"t":25,"v":0.178},{"t":27.5,"v":0.179},{"t":30,"v":0.182},{"t":32.5,"v":0.185},{"t":35,"v":0.1875},{"t":37.5,"v":0.187},{"t":40,"v":0.186},{"t":42.5,"v":0.185},{"t":45,"v":0.184},{"t":47.5,"v":0.183},{"t":50,"v":0.182},{"t":52.5,"v":0.1815},{"t":55,"v":0.181},{"t":57.5,"v":0.183},{"t":60,"v":0.1855},{"t":62.5,"v":0.185},{"t":65,"v":0.1835},{"t":67.5,"v":0.182},{"t":70,"v":0.181},{"t":72.5,"v":0.18},{"t":75,"v":0.181},{"t":77.5,"v":0.183},{"t":80,"v":0.184},{"t":82.5,"v":0.1838},{"t":85,"v":0.183},{"t":87.5,"v":0.1815},{"t":90,"v":0.18},{"t":92.5,"v":0.179},{"t":95,"v":0.179},{"t":97.5,"v":0.1788},{"t":100,"v":0.1785},{"t":102.5,"v":0.178},{"t":105,"v":0.178},{"t":107.5,"v":0.18},{"t":109.5,"v":0.184},{"t":112,"v":0.181},{"t":114.5,"v":0.179},{"t":117,"v":0.1775},{"t":119.5,"v":0.176},{"t":122,"v":0.175}],
"j3b":[{"t":0,"v":0.456},{"t":2.5,"v":0.456},{"t":5,"v":0.456},{"t":7.5,"v":0.456},{"t":10,"v":0.456},{"t":12.5,"v":0.456},{"t":15,"v":0.456},{"t":17.5,"v":0.459},{"t":19,"v":0.465},{"t":20.5,"v":0.462},{"t":22.5,"v":0.457},{"t":25,"v":0.456},{"t":27.5,"v":0.456},{"t":30,"v":0.456},{"t":32.5,"v":0.458},{"t":34,"v":0.4625},{"t":36,"v":0.458},{"t":38.5,"v":0.456},{"t":41,"v":0.456},{"t":43.5,"v":0.456},{"t":46,"v":0.456},{"t":48.5,"v":0.456},{"t":51,"v":0.456},{"t":53.5,"v":0.457},{"t":55,"v":0.462},{"t":57,"v":0.457},{"t":59.5,"v":0.456},{"t":62,"v":0.456},{"t":64.5,"v":0.456},{"t":67,"v":0.456},{"t":69.5,"v":0.456},{"t":72,"v":0.457},{"t":74,"v":0.461},{"t":76.5,"v":0.4625},{"t":79,"v":0.4625},{"t":81.5,"v":0.4625},{"t":84,"v":0.4625},{"t":86.5,"v":0.4625},{"t":89,"v":0.4625},{"t":91.5,"v":0.4625},{"t":94,"v":0.4625},{"t":96.5,"v":0.461},{"t":98.5,"v":0.455},{"t":101,"v":0.4535},{"t":103,"v":0.4545},{"t":105,"v":0.461},{"t":107,"v":0.4625},{"t":109,"v":0.4625},{"t":110.2,"v":0.6025},{"t":111.6,"v":0.544},{"t":112.8,"v":0.535},{"t":114,"v":0.528},{"t":115.3,"v":0.522},{"t":116.6,"v":0.518},{"t":118,"v":0.513},{"t":119.3,"v":0.507},{"t":120.5,"v":0.5},{"t":121.6,"v":0.503},{"t":122.4,"v":0.506}],
"j3c":[{"t":0,"v":0.185},{"t":0.5,"v":0.206},{"t":4.3,"v":0.2025},{"t":9,"v":0.1975},{"t":13.3,"v":0.19},{"t":13.6,"v":0.281},{"t":14.4,"v":0.25},{"t":16.7,"v":0.231},{"t":21.3,"v":0.219},{"t":29,"v":0.206},{"t":36.7,"v":0.1975},{"t":44.4,"v":0.19},{"t":52,"v":0.185},{"t":60,"v":0.179},{"t":67.6,"v":0.175},{"t":75.3,"v":0.171},{"t":83,"v":0.169},{"t":90.7,"v":0.166},{"t":98.5,"v":0.165},{"t":106,"v":0.1625},{"t":114,"v":0.1575},{"t":121.6,"v":0.156}],
"j3d":[{"t":0,"v":0.456},{"t":0.5,"v":0.431},{"t":2.8,"v":0.4},{"t":5.9,"v":0.385},{"t":9,"v":0.375},{"t":12.8,"v":0.369},{"t":13.9,"v":0.369},{"t":15,"v":0.394},{"t":17.4,"v":0.3975},{"t":21.3,"v":0.3875},{"t":29,"v":0.3775},{"t":36.7,"v":0.369},{"t":44.4,"v":0.3625},{"t":52,"v":0.359},{"t":60,"v":0.355},{"t":67.6,"v":0.3525},{"t":75.3,"v":0.35},{"t":83,"v":0.3475},{"t":90.7,"v":0.345},{"t":98.5,"v":0.344},{"t":106,"v":0.34},{"t":114,"v":0.3375},{"t":121.6,"v":0.336}]
},
"columns":3,
"spacing":{"row":72,"column":61.5},
"bounds":"flush",
"resolve":{"scale":{"x":"independent","y":"independent"}},
"concat":[
{"width":281,"height":131,
"encoding":{"x":{"field":"t","type":"quantitative","scale":{"domain":[-21,502.4],"nice":false,"zero":false},"axis":{"values":[0,166.67,333.33,500],"labelExpr":"''+floor(datum.value)","title":null}},
"y":{"field":"v","type":"quantitative","scale":{"domain":[0.4975,0.6325],"nice":false,"zero":false},"axis":{"values":[0.5,0.55,0.6],"format":".2f","title":null}}},
"layer":[
{"data":{"name":"m1a"},"mark":"point","encoding":{"color":{"datum":"ObsN1","type":"nominal","scale":{"domain":["ObsN1","ObsN2"],"range":["#C77CFF","#F8766D"]},"legend":{"title":null,"orient":"none","legendX":1009.2,"legendY":254,"symbolType":"circle","symbolSize":16,"symbolStrokeWidth":1.2,"rowPadding":6,"labelOffset":14,"labelFontSize":19}}}},
{"data":{"name":"m1b"},"mark":"point","encoding":{"color":{"datum":"ObsN2","type":"nominal"}}},
{"data":{"name":"m1c"},"mark":"line","encoding":{"stroke":{"datum":"SimN1","type":"nominal","scale":{"domain":["SimN1","SimN2"],"range":["#7CAE00","#00BFC4"]},"legend":{"title":null,"orient":"none","legendX":1008,"legendY":298.5,"symbolType":"stroke","symbolSize":529,"symbolStrokeWidth":1.8,"rowPadding":1,"labelOffset":11.5,"labelFontSize":19}}}},
{"data":{"name":"m1d"},"mark":"line","encoding":{"stroke":{"datum":"SimN2","type":"nominal"}}}]},
{"width":285,"height":131,
"title":{"text":["a) Riesel","March"],"offset":1,"lineHeight":34,"anchor":"middle"},
"encoding":{"x":{"field":"t","type":"quantitative","scale":{"domain":[-30.4,501.3],"nice":false,"zero":false},"axis":{"values":[0,166.67,333.33,500],"labelExpr":"''+floor(datum.value)","title":null}},
"y":{"field":"v","type":"quantitative","scale":{"domain":[0.4867,0.656],"nice":false,"zero":false},"axis":{"values":[0.5,0.55,0.6],"format":".2f","title":null}}},
"layer":[
{"data":{"name":"m2a"},"mark":"point","encoding":{"color":{"datum":"ObsN1","type":"nominal"}}},
{"data":{"name":"m2b"},"mark":"point","encoding":{"color":{"datum":"ObsN2","type":"nominal"}}},
{"data":{"name":"m2c"},"mark":"line","encoding":{"stroke":{"datum":"SimN1","type":"nominal"}}},
{"data":{"name":"m2d"},"mark":"line","encoding":{"stroke":{"datum":"SimN2","type":"nominal"}}}]},
{"width":287,"height":131,
"encoding":{"x":{"field":"t","type":"quantitative","scale":{"domain":[-20.6,502.3],"nice":false,"zero":false},"axis":{"values":[0,166.67,333.33,500],"labelExpr":"''+floor(datum.value)","title":null}},
"y":{"field":"v","type":"quantitative","scale":{"domain":[0.382,0.688],"nice":false,"zero":false},"axis":{"values":[0.4,0.5,0.6],"format":".1f","title":null}}},
"layer":[
{"data":{"name":"m3a"},"mark":"point","encoding":{"color":{"datum":"ObsN1","type":"nominal"}}},
{"data":{"name":"m3b"},"mark":"point","encoding":{"color":{"datum":"ObsN2","type":"nominal"}}},
{"data":{"name":"m3c"},"mark":"line","encoding":{"stroke":{"datum":"SimN1","type":"nominal"}}},
{"data":{"name":"m3d"},"mark":"line","encoding":{"stroke":{"datum":"SimN2","type":"nominal"}}}]},
{"width":281,"height":131,
"encoding":{"x":{"field":"t","type":"quantitative","scale":{"domain":[-2.56,57.4],"nice":false,"zero":false},"axis":{"values":[0,16.67,33.33,50],"labelExpr":"''+floor(datum.value)","title":null}},
"y":{"field":"v","type":"quantitative","scale":{"domain":[0.4848,0.5334],"nice":false,"zero":false},"axis":{"values":[0.49,0.5,0.51,0.52,0.53],"format":".2f","title":"θ(cm³/cm³)","titleX":-84,"titleY":65.5,"titleAngle":-90,"titleBaseline":"middle","titleAlign":"center"}}},
"layer":[
{"data":{"name":"y1a"},"mark":"point","encoding":{"color":{"datum":"ObsN1","type":"nominal"}}},
{"data":{"name":"y1b"},"mark":"point","encoding":{"color":{"datum":"ObsN2","type":"nominal"}}},
{"data":{"name":"y1c"},"mark":"line","encoding":{"stroke":{"datum":"SimN1","type":"nominal"}}},
{"data":{"name":"y1d"},"mark":"line","encoding":{"stroke":{"datum":"SimN2","type":"nominal"}}}]},
{"width":285,"height":131,
"title":{"text":"May","offset":-1,"anchor":"middle"},
"encoding":{"x":{"field":"t","type":"quantitative","scale":{"domain":[-3.48,57.3],"nice":false,"zero":false},"axis":{"values":[0,16.67,33.33,50],"labelExpr":"''+floor(datum.value)","title":null}},
"y":{"field":"v","type":"quantitative","scale":{"domain":[0.4406,0.6096],"nice":false,"zero":false},"axis":{"values":[0.45,0.5,0.55,0.6],"format":".2f","title":null}}},
"layer":[
{"data":{"name":"y2a"},"mark":"point","encoding":{"color":{"datum":"ObsN1","type":"nominal"}}},
{"data":{"name":"y2b"},"mark":"point","encoding":{"color":{"datum":"ObsN2","type":"nominal"}}},
{"data":{"name":"y2c"},"mark":"line","encoding":{"stroke":{"datum":"SimN1","type":"nominal"}}},
{"data":{"name":"y2d"},"mark":"line","encoding":{"stroke":{"datum":"SimN2","type":"nominal"}}}]},
{"width":287,"height":131,
"title":{"text":"July","orient":"bottom","anchor":"middle","frame":"group","dx":-346,"offset":27},
"encoding":{"x":{"field":"t","type":"quantitative","scale":{"domain":[-4.3,57.4],"nice":false,"zero":false},"axis":{"values":[0,16.67,33.33,50],"labelExpr":"''+floor(datum.value)","title":null}},
"y":{"field":"v","type":"quantitative","scale":{"domain":[0.1917,0.2735],"nice":false,"zero":false},"axis":{"values":[0.2,0.22,0.24,0.26],"format":".2f","title":null}}},
"layer":[
{"data":{"name":"y3a"},"mark":"point","encoding":{"color":{"datum":"ObsN1","type":"nominal"}}},
{"data":{"name":"y3b"},"mark":"point","encoding":{"color":{"datum":"ObsN2","type":"nominal"}}},
{"data":{"name":"y3c"},"mark":"line","encoding":{"stroke":{"datum":"SimN1","type":"nominal"}}},
{"data":{"name":"y3d"},"mark":"line","encoding":{"stroke":{"datum":"SimN2","type":"nominal"}}}]},
{"width":281,"height":130,
"title":{"text":"SN1","orient":"bottom","anchor":"middle","frame":"group","dx":-27,"offset":60,"font":"Open Sans","fontWeight":"bold","fontSize":18},
"encoding":{"x":{"field":"t","type":"quantitative","scale":{"domain":[-5.8,126.6],"nice":false,"zero":false},"axis":{"values":[0,33.33,66.67,100],"labelExpr":"''+floor(datum.value)","title":null}},
"y":{"field":"v","type":"quantitative","scale":{"domain":[0.4227,0.5242],"nice":false,"zero":false},"axis":{"values":[0.45,0.5],"format":".2f","title":null}}},
"layer":[
{"data":{"name":"j1a"},"mark":"point","encoding":{"color":{"datum":"ObsN1","type":"nominal"}}},
{"data":{"name":"j1b"},"mark":"point","encoding":{"color":{"datum":"ObsN2","type":"nominal"}}},
{"data":{"name":"j1c"},"mark":"line","encoding":{"stroke":{"datum":"SimN1","type":"nominal"}}},
{"data":{"name":"j1d"},"mark":"line","encoding":{"stroke":{"datum":"SimN2","type":"nominal"}}}]},
{"width":285,"height":130,
"title":{"text":"SN2","orient":"bottom","anchor":"middle","frame":"group","dx":-13,"offset":21,"font":"Open Sans","fontWeight":"bold","fontSize":18},
"encoding":{"x":{"field":"t","type":"quantitative","scale":{"domain":[-3.4,129.2],"nice":false,"zero":false},"axis":{"values":[0,33.33,66.67,100],"labelExpr":"''+floor(datum.value)","title":"Time(hr)","titleX":149,"titleY":54,"titleBaseline":"middle","titleAlign":"center"}},
"y":{"field":"v","type":"quantitative","scale":{"domain":[0.3778,0.6045],"nice":false,"zero":false},"axis":{"values":[0.4,0.5,0.6],"format":".1f","title":null}}},
"layer":[
{"data":{"name":"j2a"},"mark":"point","encoding":{"color":{"datum":"ObsN1","type":"nominal"}}},
{"data":{"name":"j2b"},"mark":"point","encoding":{"color":{"datum":"ObsN2","type":"nominal"}}},
{"data":{"name":"j2c"},"mark":"line","encoding":{"stroke":{"datum":"SimN1","type":"nominal"}}},
{"data":{"name":"j2d"},"mark":"line","encoding":{"stroke":{"datum":"SimN2","type":"nominal"}}}]},
{"width":287,"height":130,
"title":{"text":"SN3","orient":"bottom","anchor":"middle","frame":"group","dx":-15,"offset":60,"font":"Open Sans","fontWeight":"bold","fontSize":18},
"encoding":{"x":{"field":"t","type":"quantitative","scale":{"domain":[-5.2,127.6],"nice":false,"zero":false},"axis":{"values":[0,33.33,66.67,100],"labelExpr":"''+floor(datum.value)","title":null}},
"y":{"field":"v","type":"quantitative","scale":{"domain":[0.1373,0.6248],"nice":false,"zero":false},"axis":{"values":[0.2,0.4,0.6],"format":".1f","title":null}}},
"layer":[
{"data":{"name":"j3a"},"mark":"point","encoding":{"color":{"datum":"ObsN1","type":"nominal"}}},
{"data":{"name":"j3b"},"mark":"point","encoding":{"color":{"datum":"ObsN2","type":"nominal"}}},
{"data":{"name":"j3c"},"mark":"line","encoding":{"stroke":{"datum":"SimN1","type":"nominal"}}},
{"data":{"name":"j3d"},"mark":"line","encoding":{"stroke":{"datum":"SimN2","type":"nominal"}}}]}
],
"config":{
"view":{"stroke":null},
"font":"Liberation Sans",
"point":{"filled":false,"size":9,"strokeWidth":1.1},
"line":{"strokeWidth":1.8},
"axis":{"grid":false,"domainColor":"#333333","domainWidth":1.2,"tickColor":"#333333","tickWidth":1.2,"tickSize":4,"labelColor":"#4d4d4d","labelFont":"Liberation Sans","labelFontSize":15,"labelPadding":3,"titleFont":"Liberation Sans","titleFontSize":20,"titleFontWeight":"normal","titleColor":"#1a1a1a"},
"title":{"font":"Lato","fontSize":24,"fontWeight":"normal","color":"#000000"},
"legend":{"labelFont":"Liberation Sans","labelFontSize":19,"labelColor":"#1a1a1a"}
}
}
